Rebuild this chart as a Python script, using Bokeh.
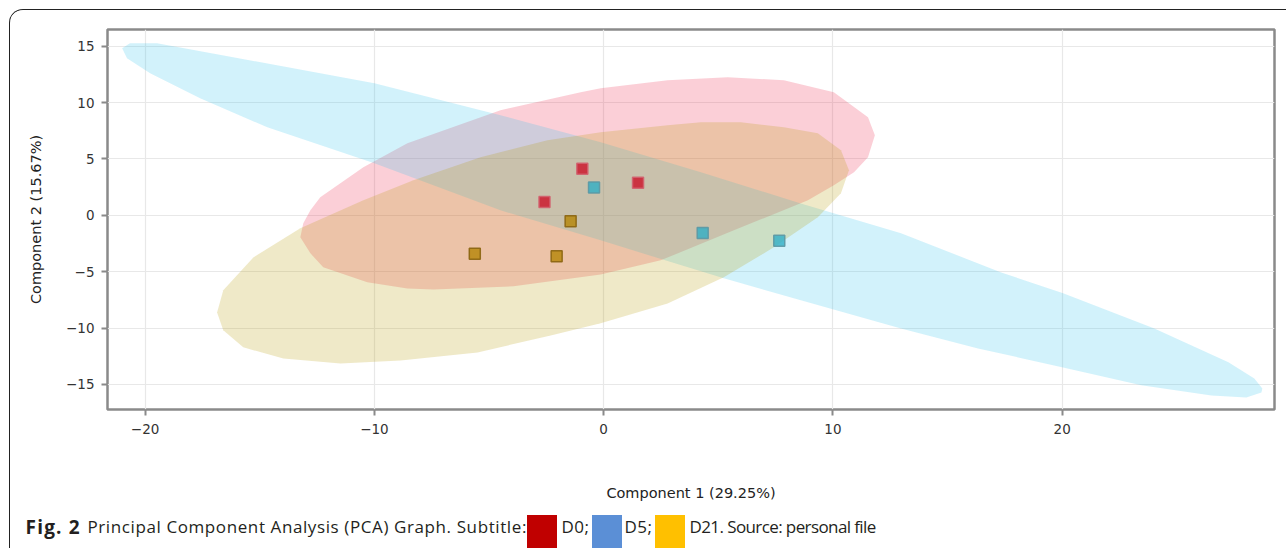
from bokeh.plotting import figure
from bokeh.models import FixedTicker, Range1d, Div
from bokeh.layouts import column
from bokeh.embed import file_html
from bokeh.resources import INLINE

# ---------------- data ----------------
groups = ["D0", "D5", "D21"]
region_colors = ["#eb234b", "#32c3eb", "#b49b05"]
point_colors = ["#cc0f27", "#30aec6", "#b58405"]
point_edges = ["#d2606e", "#5b98a4", "#8a6410"]

# PCA scores (Component 1, Component 2)
d0_x = [-0.93, 1.50, -2.58]
d0_y = [4.14, 2.90, 1.18]
d5_x = [-0.42, 4.32, 7.66]
d5_y = [2.46, -1.57, -2.25]
d21_x = [-1.44, -5.62, -2.05]
d21_y = [-0.53, -3.40, -3.64]

# confidence-region outlines
d0_ell_x = [-13.10, -12.79, -12.36, -10.48, -8.56, -4.50, -1.00, -0.13, 2.79, 5.41, 7.86,
            10.04, 11.53, 11.83, 11.53, 10.92, 10.04, 8.91, 5.68, 2.49, -0.13, -3.93,
            -7.42, -8.56, -10.31, -12.23, -12.79, -13.23]
d0_ell_y = [-0.71, 0.44, 1.60, 4.26, 6.39, 9.32, 10.91, 11.27, 11.98, 12.24, 11.98,
            10.91, 8.70, 7.10, 5.15, 3.82, 2.66, 1.33, -1.33, -3.99, -5.24, -6.30,
            -6.57, -6.48, -5.94, -4.61, -3.37, -1.95]

d5_ell_x = [-20.66, -19.48, -16.16, -10.00, -4.50, -0.13, 4.24, 8.60, 12.97, 17.34, 20.04,
            24.02, 27.25, 28.38, 28.73, 28.69, 28.03, 26.51, 23.45, 20.04, 16.33, 12.97,
            8.60, 5.24, -0.13, -4.50, -10.00, -14.67, -17.60, -19.78, -20.79, -21.00]
d5_ell_y = [15.26, 15.26, 14.02, 11.71, 8.87, 6.48, 3.82, 1.06, -1.60, -5.06, -6.92,
            -10.03, -13.04, -14.46, -15.35, -15.71, -16.15, -15.97, -15.08, -13.49, -11.80, -10.03,
            -7.54, -5.59, -2.22, 0.44, 4.61, 7.81, 10.38, 12.60, 13.93, 14.82]

d21_ell_x = [-16.86, -16.59, -15.28, -13.23, -10.48, -8.30, -5.37, -2.45, -0.13, 2.79, 4.24,
             5.98, 7.86, 9.34, 10.35, 10.70, 10.35, 9.34, 7.42, 5.24, 2.79, -0.13,
             -2.31, -5.50, -8.86, -11.48, -13.97, -15.72, -16.59]
d21_ell_y = [-8.61, -6.65, -3.73, -1.15, 1.33, 3.11, 5.15, 6.65, 7.36, 7.99, 8.25,
             8.25, 7.81, 7.28, 5.77, 3.99, 1.95, -0.18, -2.84, -5.50, -7.81, -9.58,
             -10.65, -12.16, -12.87, -13.13, -12.69, -11.71, -10.20]

x_ticks = [-20, -10, 0, 10, 20]
y_ticks = [-15, -10, -5, 0, 5, 10, 15]
x_title = "Component 1 (29.25%)"
y_title = "Component 2 (15.67%)"

caption_bold = "Fig. 2"
caption_main = "Principal Component Analysis (PCA) Graph. Subtitle:"
caption_keys = ["D0;", "D5;", "D21. Source: personal file"]
caption_colors = ["#c00000", "#5b8fd6", "#ffc000"]

# ---------------- figure ----------------
p = figure(width=1276, height=500, output_backend="svg", toolbar_location=None,
           x_range=Range1d(-21.64, 29.26), y_range=Range1d(-17.22, 16.48),
           min_border_left=97, min_border_right=12, min_border_top=19, min_border_bottom=101,
           background_fill_color="white", border_fill_color="white")

p.outline_line_color = "#8a8a8a"
p.outline_line_width = 2.5
p.outline_line_alpha = 1.0

for ax in (p.xaxis[0], p.yaxis[0]):
    ax.axis_line_color = None
    ax.major_tick_line_color = "#8a8a8a"
    ax.major_tick_line_width = 2
    ax.major_tick_out = 6
    ax.major_tick_in = 0
    ax.minor_tick_line_color = None
    ax.major_label_text_font = "DejaVu Sans"
    ax.major_label_text_font_size = "13.5px"
    ax.major_label_text_color = "#333333"
    ax.axis_label_text_font = "DejaVu Sans"
    ax.axis_label_text_font_size = "14.5px"
    ax.axis_label_text_font_style = "normal"
    ax.axis_label_text_color = "#222222"

p.xaxis.ticker = FixedTicker(ticks=x_ticks)
p.yaxis.ticker = FixedTicker(ticks=y_ticks)
p.xaxis.major_label_overrides = {t: str(t).replace("-", "\u2212") for t in x_ticks}
p.yaxis.major_label_overrides = {t: str(t).replace("-", "\u2212") for t in y_ticks}
p.xaxis.axis_label = x_title
p.yaxis.axis_label = y_title
p.xaxis.major_label_standoff = 8
p.xaxis.axis_label_standoff = 48
p.yaxis.major_label_standoff = 7
p.yaxis.axis_label_standoff = 19

p.xgrid.ticker = FixedTicker(ticks=x_ticks)
p.ygrid.ticker = FixedTicker(ticks=y_ticks)
p.grid.grid_line_color = "#e8e8e8"
p.grid.grid_line_width = 1.2

ells = [(d0_ell_x, d0_ell_y), (d5_ell_x, d5_ell_y), (d21_ell_x, d21_ell_y)]
for (ex, ey), c in zip(ells, region_colors):
    p.patch(ex, ey, fill_color=c, fill_alpha=0.22, line_color=None)

pts = [(d0_x, d0_y), (d5_x, d5_y), (d21_x, d21_y)]
for (px, py), c, e in zip(pts, point_colors, point_edges):
    p.scatter(px, py, marker="square", size=11, fill_color=c, fill_alpha=0.8,
              line_color=e, line_alpha=0.9, line_width=1.5)

# ---------------- caption ----------------
base = "font-family:'Open Sans'; color:#231f20; line-height:24px; position:absolute; top:5px;"
parts = [f'<span style="{base} left:15.5px; font-size:19px; font-weight:bold; letter-spacing:1.2px;">{caption_bold}</span>',
         f'<span style="{base} left:77.5px; font-size:17px; letter-spacing:0.6px;">{caption_main}</span>']
box_lefts = [516.5, 581.5, 644.5]
text_lefts = [551.5, 614.5, 679.5]
key_spacing = ["0.5px", "0.5px", "-0.6px"]
for bl, tl, c, t, ls in zip(box_lefts, text_lefts, caption_colors, caption_keys, key_spacing):
    parts.append(f'<span style="position:absolute; left:{bl}px; top:4.5px; width:30px; '
                 f'height:40px; background:{c};"></span>')
    parts.append(f'<span style="{base} left:{tl}px; font-size:17px; letter-spacing:{ls};">{t}</span>')
cap_html = ('<div style="position:relative; width:1270px; height:40px; white-space:nowrap;">'
            + "".join(parts) + "</div>")
cap = Div(text=cap_html, width=1270, height=40, styles={"margin": "0", "padding": "0"})

layout = column(p, cap, spacing=0,
                styles={"border-top": "1.5px solid #222", "border-left": "1.5px solid #222",
                        "border-top-left-radius": "14px", "overflow": "hidden",
                        "margin-left": "9px", "margin-top": "9px"})

open("out.html", "w").write(file_html(layout, INLINE))
